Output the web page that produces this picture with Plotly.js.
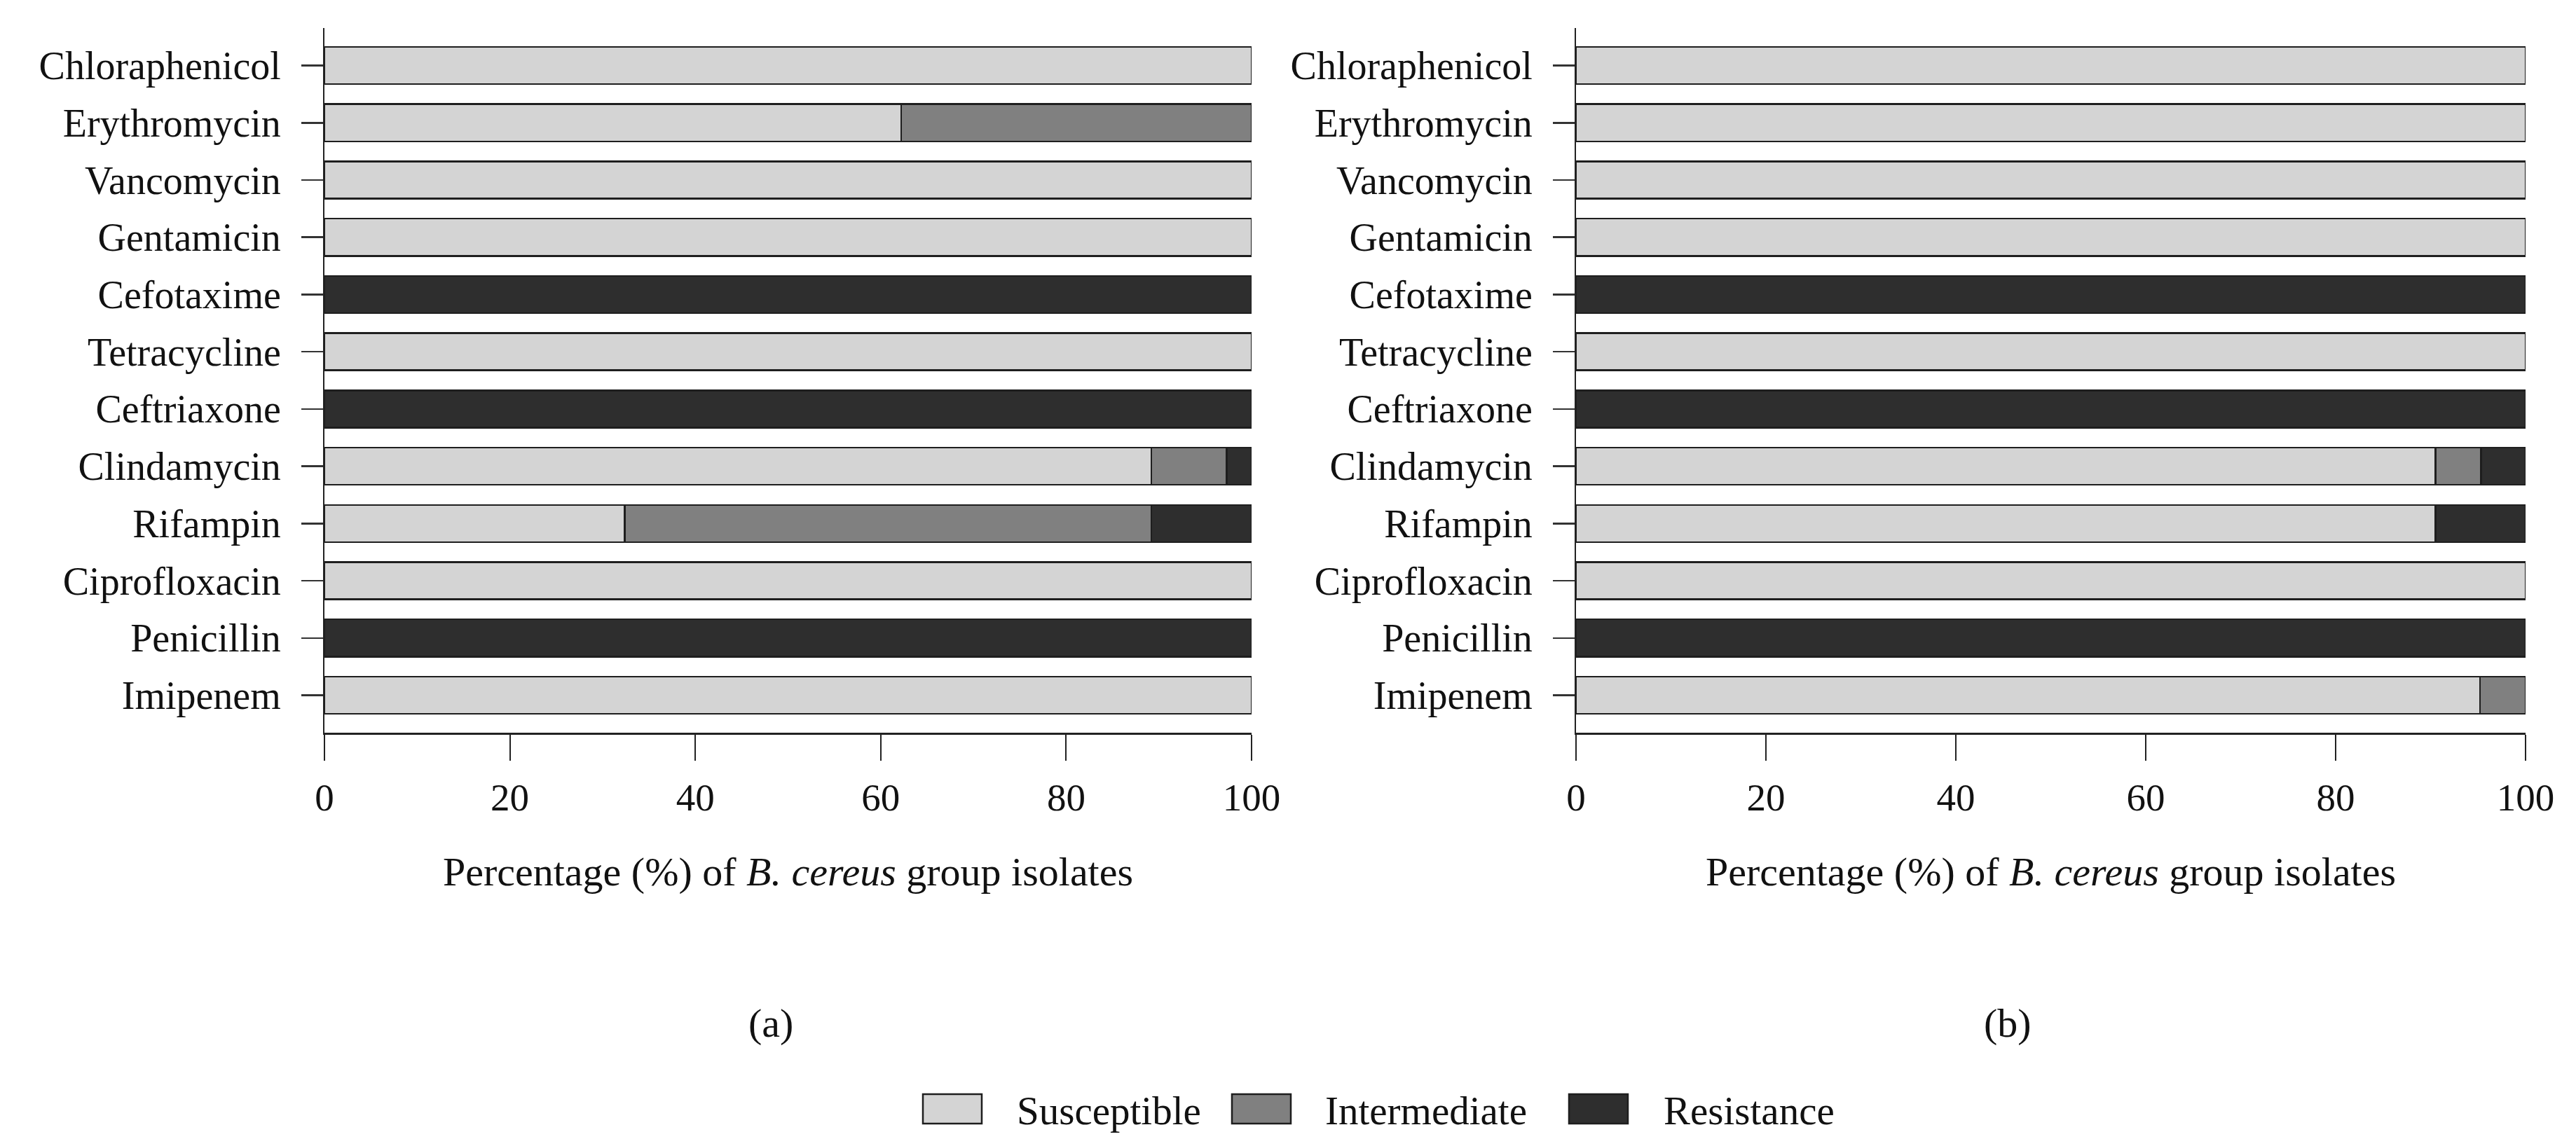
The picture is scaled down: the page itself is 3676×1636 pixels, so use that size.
<!DOCTYPE html>
<html>
<head>
<meta charset="utf-8">
<script src="https://cdn.plot.ly/plotly-3.0.1.min.js"></script>
<style>html,body{margin:0;padding:0;background:#fff}#chart{width:3676px;height:1636px}</style>
</head>
<body>
<div id="chart"></div>
<script>
// ---- data ----
const categories = ['Chloraphenicol','Erythromycin','Vancomycin','Gentamicin','Cefotaxime','Tetracycline','Ceftriaxone','Clindamycin','Rifampin','Ciprofloxacin','Penicillin','Imipenem'];
const seriesNames = ['Susceptible','Intermediate','Resistance'];
const seriesColors = ['#d4d4d4','#808080','#2e2e2e'];

const aSusceptible  = [100, 62.2, 100, 100, 0, 100, 0, 89.2, 32.4, 100, 0, 100];
const aIntermediate = [0, 37.8, 0, 0, 0, 0, 0, 8.1, 56.8, 0, 0, 0];
const aResistance   = [0, 0, 0, 0, 100, 0, 100, 2.7, 10.8, 0, 100, 0];

const bSusceptible  = [100, 100, 100, 100, 0, 100, 0, 90.5, 90.5, 100, 0, 95.2];
const bIntermediate = [0, 0, 0, 0, 0, 0, 0, 4.8, 0, 0, 0, 4.8];
const bResistance   = [0, 0, 0, 0, 100, 0, 100, 4.7, 9.5, 0, 100, 0];

const xTicks = [0, 20, 40, 60, 80, 100];
const panelLabels = ['(a)', '(b)'];
const xTitle = 'Percentage (%) of <i>B. cereus</i> group isolates';

// ---- build ----
const FONT = 'Liberation Serif, Times New Roman, serif';
const panels = [
  {vals: [aSusceptible, aIntermediate, aResistance], xa: 'x', ya: 'y'},
  {vals: [bSusceptible, bIntermediate, bResistance], xa: 'x2', ya: 'y2'}
];
const traces = [];
panels.forEach(p => {
  p.vals.forEach((v, i) => {
    traces.push({
      type: 'bar', orientation: 'h',
      x: v, y: categories, name: seriesNames[i],
      xaxis: p.xa, yaxis: p.ya,
      width: 0.65,
      marker: {color: seriesColors[i], line: {color: '#1e1e1e', width: 2.5}},
      showlegend: false, hoverinfo: 'x+y+name'
    });
  });
});

const yDomain = [1 - 1046/1636, 1 - 40/1636];
function yAxis() {
  return {
    type: 'category', categoryorder: 'array', categoryarray: categories.slice().reverse(),
    range: [-0.655, categories.length - 1 + 0.655],
    domain: yDomain,
    showline: true, linecolor: '#222', linewidth: 2,
    ticks: 'outside', ticklen: 31, tickwidth: 2.5, tickcolor: '#333',
    ticklabelstandoff: 18,
    tickfont: {family: FONT, size: 56, color: '#111'},
    showgrid: false, zeroline: false, fixedrange: true
  };
}
function xAxis(domain, anchor) {
  return {
    domain: domain, anchor: anchor, range: [0, 100],
    tickmode: 'array', tickvals: xTicks, ticktext: xTicks.map(String),
    showline: true, linecolor: '#222', linewidth: 3,
    ticks: 'outside', ticklen: 37, tickwidth: 2, tickcolor: '#222',
    ticklabelstandoff: 5,
    tickfont: {family: FONT, size: 55, color: '#111'},
    showgrid: false, zeroline: false, fixedrange: true,
    title: {text: xTitle, font: {family: FONT, size: 58, color: '#111'}, standoff: 56}
  };
}

const annotations = [];
const shapes = [];
[1100, 2865].forEach((px, i) => {
  annotations.push({xref: 'paper', yref: 'paper', x: px/3676, y: 1 - 1460/1636,
    text: panelLabels[i], showarrow: false, xanchor: 'center', yanchor: 'middle',
    font: {family: FONT, size: 58, color: '#111'}});
});
// legend (drawn manually to match large swatches)
const legBoxX = [1317, 1758, 2239];
const legTextX = [1449, 1889, 2372];
seriesNames.forEach((n, i) => {
  shapes.push({type: 'rect', xref: 'paper', yref: 'paper',
    x0: legBoxX[i]/3676, x1: (legBoxX[i]+84)/3676,
    y0: 1 - 1604/1636, y1: 1 - 1562/1636,
    fillcolor: seriesColors[i], line: {color: '#1e1e1e', width: 2.5}});
  annotations.push({xref: 'paper', yref: 'paper', x: legTextX[i]/3676, y: 1 - 1585/1636,
    text: n, showarrow: false, xanchor: 'left', yanchor: 'middle',
    font: {family: FONT, size: 57, color: '#111'}});
});

const layout = {
  width: 3676, height: 1636,
  margin: {l: 0, r: 0, t: 0, b: 0},
  paper_bgcolor: '#fff', plot_bgcolor: '#fff',
  barmode: 'stack',
  showlegend: false,
  xaxis: xAxis([463/3676, 1786/3676], 'y'),
  yaxis: Object.assign(yAxis(), {anchor: 'x'}),
  xaxis2: xAxis([2249/3676, 3604/3676], 'y2'),
  yaxis2: Object.assign(yAxis(), {anchor: 'x2'}),
  annotations: annotations,
  shapes: shapes
};

Plotly.newPlot('chart', traces, layout, {displayModeBar: false, staticPlot: true});
</script>
</body>
</html>
